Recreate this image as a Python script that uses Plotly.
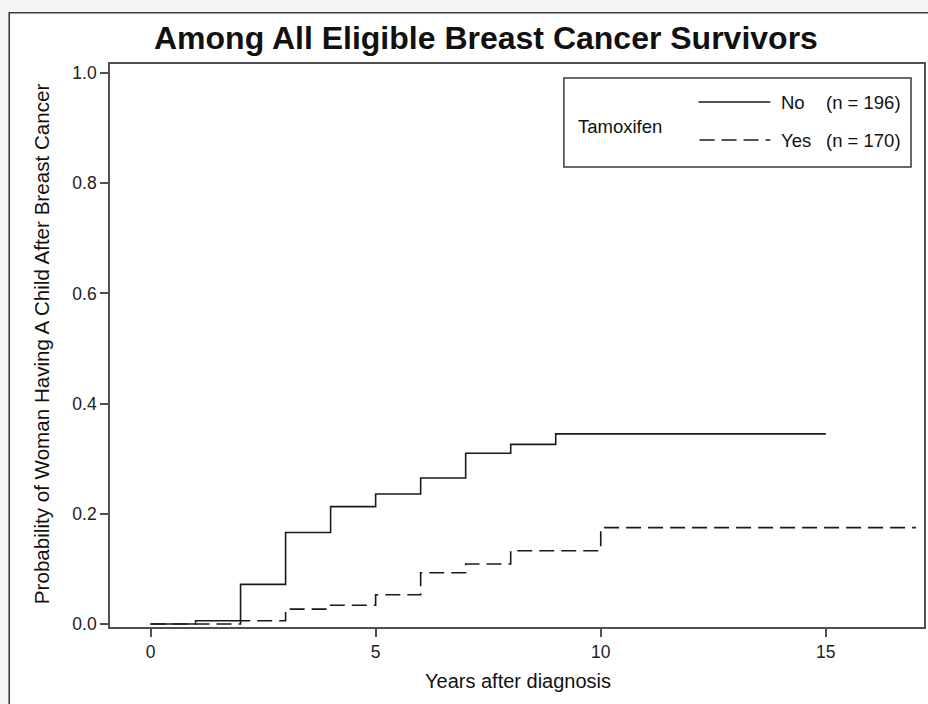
import plotly.graph_objects as go

# ---- data ----
years_no = [0, 1, 2, 3, 4, 5, 6, 7, 8, 9, 15]
prob_no = [0.0, 0.006, 0.072, 0.166, 0.213, 0.236, 0.265, 0.310, 0.326, 0.345, 0.345]
years_yes = [0, 2, 3, 4, 5, 6, 7, 8, 10, 17]
prob_yes = [0.0, 0.006, 0.027, 0.034, 0.053, 0.093, 0.109, 0.133, 0.175, 0.175]
group_labels = ["No", "Yes"]
group_n = ["(n = 196)", "(n = 170)"]
legend_title = "Tamoxifen"
x_ticks = [0, 5, 10, 15]
y_ticks = [0.0, 0.2, 0.4, 0.6, 0.8, 1.0]
y_tick_text = ["0.0", "0.2", "0.4", "0.6", "0.8", "1.0"]

W, H = 928, 704
ML, MR, MT, MB = 110, 2, 64, 77
PW, PH = W - ML - MR, H - MT - MB

def px(x):
    return (x - ML) / PW

def py(y):
    return (H - MB - y) / PH

FONT = "Liberation Sans, Arial, Helvetica, sans-serif"
AX = "#505050"
LINE = "#1a1a1a"

fig = go.Figure()
fig.add_trace(go.Scatter(x=years_no, y=prob_no, mode="lines", line_shape="hv",
                         line=dict(color=LINE, width=1.6), showlegend=False))
fig.add_trace(go.Scatter(x=years_yes, y=prob_yes, mode="lines", line_shape="hv",
                         line=dict(color=LINE, width=1.6, dash="15px,7px"), showlegend=False))

shapes = []
# outer frame
shapes.append(dict(type="rect", xref="paper", yref="paper", layer="below",
                   x0=px(9), x1=px(940), y0=py(720), y1=py(12.7),
                   line=dict(color="#3a3a3a", width=1.6), fillcolor="white"))
# legend box
shapes.append(dict(type="rect", xref="paper", yref="paper",
                   x0=px(565), x1=px(913), y0=py(167), y1=py(78),
                   line=dict(color="#3a3a3a", width=1.5), fillcolor="rgba(0,0,0,0)"))
# legend samples
shapes.append(dict(type="line", xref="paper", yref="paper",
                   x0=px(700), x1=px(772), y0=py(102), y1=py(102),
                   line=dict(color=LINE, width=1.6)))
shapes.append(dict(type="line", xref="paper", yref="paper",
                   x0=px(701), x1=px(772), y0=py(140), y1=py(140),
                   line=dict(color=LINE, width=1.6, dash="15px,7px")))

ann = []
ann.append(dict(text="<b>Among All Eligible Breast Cancer Survivors</b>", xref="paper", yref="paper",
                x=px(486.5), y=py(38), showarrow=False, xanchor="center", yanchor="middle",
                font=dict(family=FONT, size=32, color="#111")))
ann.append(dict(text=legend_title, xref="paper", yref="paper", x=px(577), y=py(126),
                showarrow=False, xanchor="left", yanchor="middle",
                font=dict(family=FONT, size=18.5, color="#111")))
for i, yy in enumerate([102, 140]):
    ann.append(dict(text=group_labels[i], xref="paper", yref="paper", x=px(781), y=py(yy),
                    showarrow=False, xanchor="left", yanchor="middle",
                    font=dict(family=FONT, size=18.5, color="#111")))
    ann.append(dict(text=group_n[i], xref="paper", yref="paper", x=px(826), y=py(yy),
                    showarrow=False, xanchor="left", yanchor="middle",
                    font=dict(family=FONT, size=18.5, color="#111")))
ann.append(dict(text="Years after diagnosis", xref="paper", yref="paper", x=px(519), y=py(681),
                showarrow=False, xanchor="center", yanchor="middle",
                font=dict(family=FONT, size=20, color="#111")))
ann.append(dict(text="Probability of Woman Having A Child After Breast Cancer", xref="paper", yref="paper",
                x=px(41), y=py(344), textangle=-90, showarrow=False, xanchor="center", yanchor="middle",
                font=dict(family=FONT, size=20.6, color="#111")))

fig.update_layout(
    width=W, height=H,
    margin=dict(l=ML, r=MR, t=MT, b=MB, pad=0),
    paper_bgcolor="#f5f5f7", plot_bgcolor="white",
    shapes=shapes, annotations=ann, showlegend=False,
    font=dict(family=FONT, color="#222"),
)
fig.update_xaxes(range=[-0.9, 17.18], tickvals=x_ticks, ticks="outside", ticklen=8,
                 tickcolor=AX, tickwidth=1.5, showline=True, linecolor=AX, linewidth=1.6,
                 mirror=True, showgrid=False, zeroline=False,
                 tickfont=dict(family=FONT, size=17.5, color="#222"))
fig.update_yaxes(range=[-0.0054, 1.0163], tickvals=y_ticks, ticktext=y_tick_text, ticks="outside",
                 ticklen=8, tickcolor=AX, tickwidth=1.5, showline=True, linecolor=AX, linewidth=1.6,
                 mirror=True, showgrid=False, zeroline=False,
                 tickfont=dict(family=FONT, size=17.5, color="#222"))

fig.write_html("out.html", config={"displayModeBar": False},
               post_script="document.body.style.margin='0';document.body.style.overflow='hidden';")
